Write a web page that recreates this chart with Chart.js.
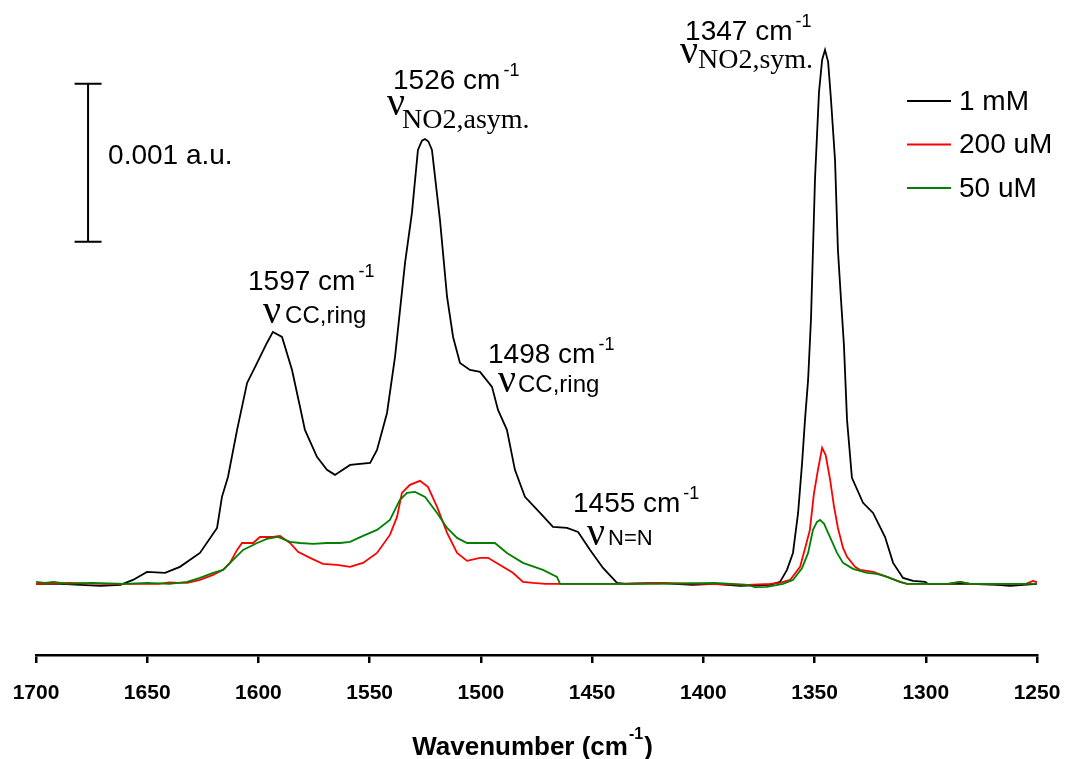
<!DOCTYPE html>
<html lang="en">
<head>
  <meta charset="UTF-8" />
  <title>SERS spectra vs concentration</title>
  <script src="https://cdn.jsdelivr.net/npm/chart.js"></script>
  <style>
    body { margin: 0; background: #ffffff; }
    #wrap { width: 1067px; height: 759px; }
  </style>
</head>
<body>
  <div id="wrap"><canvas id="spectrum"></canvas></div>

  <script>
    // traces: [wavenumber (cm-1), absorbance in units of 0.001 a.u.]
    const trace1mM = [
      [1700, 0], [1689, 0], [1680, -0.006], [1671, -0.013], [1662, -0.006], [1656.4, 0.025],
      [1650.1, 0.076], [1642, 0.070], [1635.3, 0.108], [1626.3, 0.196], [1618.6, 0.354],
      [1616.4, 0.551], [1613.7, 0.677], [1609.6, 0.975], [1605.1, 1.272], [1600.6, 1.399],
      [1596.2, 1.525], [1593.5, 1.595], [1589.4, 1.563], [1584.9, 1.354], [1581.3, 1.120],
      [1579.1, 0.975], [1573.7, 0.804], [1569.2, 0.722], [1565.6, 0.690], [1558.8, 0.753],
      [1549.8, 0.766], [1546.7, 0.848], [1542.2, 1.082], [1538.6, 1.437], [1534.1, 2.032],
      [1531.0, 2.348], [1528.3, 2.747], [1526.5, 2.805], [1525.1, 2.816], [1523.6, 2.800],
      [1522.0, 2.747], [1518.4, 2.304], [1515.2, 1.816], [1512.5, 1.563], [1509.4, 1.399],
      [1504.9, 1.354], [1500.4, 1.342], [1495.0, 1.247], [1492.3, 1.101], [1488.3, 0.975],
      [1484.7, 0.722], [1480.2, 0.551], [1473.4, 0.449], [1467.6, 0.361], [1461.3, 0.354],
      [1456.3, 0.329], [1450.9, 0.215], [1445.1, 0.101], [1438.8, 0.006], [1435.2, 0],
      [1420, 0.006], [1405, -0.006], [1395, 0], [1383.5, -0.013], [1370, -0.006],
      [1365.5, 0.013], [1362.4, 0.089], [1359.7, 0.196], [1357.4, 0.449], [1355.6, 0.766],
      [1354.3, 1.038], [1352.9, 1.291], [1351.6, 1.677], [1350.7, 2.120], [1349.8, 2.563],
      [1348.0, 3.114], [1346.6, 3.316], [1345.3, 3.380], [1343.9, 3.304], [1342.6, 3.063],
      [1340.8, 2.684], [1339.5, 2.114], [1338.1, 1.797], [1336.8, 1.513], [1335.4, 1.038],
      [1333.2, 0.671], [1328.2, 0.513], [1323.7, 0.449], [1318.3, 0.297], [1314.7, 0.133],
      [1310.2, 0.038], [1305.7, 0.019], [1300.3, 0.013], [1299.0, 0], [1280, 0],
      [1268, -0.006], [1262, -0.013], [1250, 0]
    ];

    const trace200uM = [
      [1700, 0], [1685, 0.006], [1670, 0], [1655, 0], [1645, 0], [1640, 0.010], [1636, 0.006],
      [1632.1, 0.006], [1626.3, 0.025], [1620.4, 0.057], [1615.9, 0.089], [1612.8, 0.133],
      [1609.6, 0.215], [1607.4, 0.259], [1602.4, 0.259], [1599.3, 0.297], [1593.5, 0.297],
      [1590.3, 0.304], [1585.8, 0.259], [1582.2, 0.203], [1576.8, 0.165], [1571.0, 0.127],
      [1564.7, 0.120], [1558.8, 0.108], [1556, 0.120], [1553.0, 0.133], [1546.7, 0.196],
      [1540.9, 0.310], [1537.7, 0.424], [1535.5, 0.576], [1531.9, 0.627], [1527.4, 0.652],
      [1523.8, 0.614], [1519.7, 0.487], [1515.2, 0.323], [1510.7, 0.196], [1506.2, 0.146],
      [1500.4, 0.165], [1496.8, 0.165], [1491.4, 0.120], [1485.6, 0.070], [1481.1, 0.013],
      [1476.6, 0.006], [1471, 0], [1440, 0], [1420, 0.006], [1400, 0], [1380, -0.006],
      [1370, 0], [1365.5, 0.006], [1361.0, 0.025], [1356.5, 0.108], [1353.9, 0.245],
      [1352.1, 0.342], [1351.1, 0.468], [1350.3, 0.570], [1348.4, 0.728], [1346.6, 0.861],
      [1345.0, 0.816], [1343.0, 0.658], [1341.3, 0.494], [1339.5, 0.354], [1337.2, 0.228],
      [1335.4, 0.171], [1331.8, 0.108], [1329.6, 0.089], [1323.7, 0.076], [1317.4, 0.044],
      [1311.6, 0.013], [1308.4, 0], [1290, 0], [1284.6, 0.013], [1280, 0], [1255, 0],
      [1251.8, 0.019], [1250, 0.010]
    ];

    const trace50uM = [
      [1700, 0.013], [1696, 0.006], [1692, 0.013], [1686, 0], [1675, 0.006], [1660, 0],
      [1650, 0.006], [1640, 0], [1632.1, 0.013], [1626.3, 0.038], [1620.4, 0.070],
      [1615.9, 0.089], [1611.4, 0.152], [1606.9, 0.215], [1600.6, 0.259], [1596.2, 0.285],
      [1591.2, 0.297], [1585.8, 0.266], [1581.3, 0.259], [1575.5, 0.253], [1569.2, 0.259],
      [1563.3, 0.259], [1558.8, 0.266], [1553.0, 0.304], [1546.7, 0.342], [1540.9, 0.405],
      [1536.4, 0.532], [1533.2, 0.576], [1529.6, 0.582], [1525.1, 0.551], [1519.7, 0.449],
      [1515.2, 0.354], [1510.7, 0.291], [1506.2, 0.259], [1500.4, 0.259], [1493.7, 0.259],
      [1488.3, 0.196], [1481.1, 0.133], [1472.1, 0.089], [1465.8, 0.044], [1464.4, 0],
      [1440, 0], [1420, 0], [1395, 0.006], [1380, -0.006], [1376.8, -0.020], [1371.4, -0.019],
      [1364.2, 0], [1359.7, 0.025], [1355.6, 0.101], [1352.9, 0.196], [1350.7, 0.342],
      [1348.9, 0.392], [1347.5, 0.405], [1345.7, 0.380], [1343.9, 0.323], [1339.9, 0.196],
      [1337.2, 0.133], [1332.7, 0.095], [1326.4, 0.070], [1321.9, 0.063], [1317.4, 0.044],
      [1311.6, 0.013], [1308.4, 0], [1290, 0], [1284.6, 0.013], [1280, 0], [1250, 0]
    ];

    const seriesNames = ['1 mM', '200 uM', '50 uM'];
    const seriesColors = ['#000000', '#ff0000', '#008000'];
    const xTicks = [1700, 1650, 1600, 1550, 1500, 1450, 1400, 1350, 1300, 1250];
    const peakPositions = ['1597', '1526', '1498', '1455', '1347'];
    const peakModes = ['CC,ring', 'NO2,asym.', 'CC,ring', 'N=N', 'NO2,sym.'];
    const scaleBarLabel = '0.001 a.u.';

    const SANS = '"Liberation Sans", Arial, sans-serif';
    const SERIF = '"Liberation Serif", "Times New Roman", serif';

    // where each peak label sits, in axis units (wavenumber, 0.001 a.u.)
    const labelSpots = [
      { wn: 1604.7, a: 1.861, nuWn: 1597.9, nuA: 1.652, subDx: 22, drop: 0, serif: false, size: 24 },
      { wn: 1539.5, a: 3.133, nuWn: 1542.2, nuA: 2.968, subDx: 15, drop: 13, serif: true, size: 28 },
      { wn: 1496.8, a: 1.399, nuWn: 1492.3, nuA: 1.215, subDx: 20, drop: 0, serif: false, size: 24 },
      { wn: 1458.6, a: 0.456, nuWn: 1452.3, nuA: 0.247, subDx: 21, drop: 0, serif: false, size: 22 },
      { wn: 1408.2, a: 3.443, nuWn: 1410.5, nuA: 3.300, subDx: 18, drop: 5, serif: true, size: 28 }
    ];

    const figureText = {
      id: 'figureText',
      afterDraw(chart) {
        const { ctx, scales: { x, y }, chartArea } = chart;
        ctx.save();
        ctx.fillStyle = '#000';
        ctx.strokeStyle = '#000';
        ctx.textBaseline = 'alphabetic';
        ctx.textAlign = 'left';

        // peak labels
        labelSpots.forEach((s, i) => {
          let px = x.getPixelForValue(s.wn);
          let py = y.getPixelForValue(s.a);
          ctx.font = `28px ${SANS}`;
          const main = peakPositions[i] + ' cm';
          ctx.fillText(main, px, py);
          const w = ctx.measureText(main).width;
          ctx.font = `18px ${SANS}`;
          ctx.fillText('-1', px + w + 3, py - 13);

          px = x.getPixelForValue(s.nuWn);
          py = y.getPixelForValue(s.nuA);
          ctx.font = `40px ${SERIF}`;
          ctx.fillText('\u03BD', px, py);
          ctx.font = `${s.size}px ${s.serif ? SERIF : SANS}`;
          ctx.fillText(peakModes[i], px + s.subDx, py + s.drop);
        });

        // scale bar: 1 unit tall
        const bx = x.getPixelForValue(1676.6);
        const b0 = y.getPixelForValue(2.165);
        const b1 = y.getPixelForValue(3.165);
        ctx.lineWidth = 2;
        ctx.beginPath();
        ctx.moveTo(bx, b0); ctx.lineTo(bx, b1);
        ctx.moveTo(bx - 13.5, b0); ctx.lineTo(bx + 13.5, b0);
        ctx.moveTo(bx - 13.5, b1); ctx.lineTo(bx + 13.5, b1);
        ctx.stroke();
        ctx.font = `28px ${SANS}`;
        ctx.fillText(scaleBarLabel, x.getPixelForValue(1667.6), y.getPixelForValue(2.658));

        // legend
        const lx = chartArea.right - 130;
        ctx.textBaseline = 'middle';
        ctx.font = `28px ${SANS}`;
        seriesNames.forEach((name, i) => {
          const ly = chartArea.top + 87 + i * 43.5;
          ctx.strokeStyle = seriesColors[i];
          ctx.lineWidth = 2;
          ctx.beginPath();
          ctx.moveTo(lx, ly); ctx.lineTo(lx + 44, ly);
          ctx.stroke();
          ctx.fillText(name, lx + 52, ly + 1);
        });

        // axis title with superscript
        ctx.textBaseline = 'alphabetic';
        const t1 = 'Wavenumber (cm', sup = '-1', t2 = ')';
        ctx.font = `bold 26px ${SANS}`;
        const w1 = ctx.measureText(t1).width, w3 = ctx.measureText(t2).width;
        ctx.font = `bold 16px ${SANS}`;
        const w2 = ctx.measureText(sup).width;
        const total = w1 + w2 + w3 + 2;
        let tx = (x.left + x.right) / 2 - total / 2 - 4;
        const ty = 755;
        ctx.font = `bold 26px ${SANS}`;
        ctx.fillText(t1, tx, ty);
        ctx.font = `bold 16px ${SANS}`;
        ctx.fillText(sup, tx + w1 + 1, ty - 16);
        ctx.font = `bold 26px ${SANS}`;
        ctx.fillText(t2, tx + w1 + w2 + 2, ty);
        ctx.restore();
      }
    };

    const toPoints = arr => arr.map(([wn, a]) => ({ x: wn, y: a }));
    const traces = [trace1mM, trace200uM, trace50uM];

    new Chart(document.getElementById('spectrum'), {
      type: 'line',
      data: {
        datasets: traces.map((t, i) => ({
          label: seriesNames[i],
          data: toPoints(t),
          borderColor: seriesColors[i],
          borderWidth: 1.8,
          pointRadius: 0,
          tension: 0,
          fill: false,
          order: 3 - i
        }))
      },
      options: {
        responsive: true,
        maintainAspectRatio: false,
        animation: false,
        layout: { padding: { left: 36, right: 30, top: 14, bottom: 0 } },
        plugins: {
          legend: { display: false },
          title: { display: false },
          tooltip: { enabled: false }
        },
        scales: {
          x: {
            type: 'linear',
            reverse: true,
            min: 1250,
            max: 1700,
            afterFit: s => { s.height = 104; },
            afterBuildTicks: s => { s.ticks = xTicks.map(v => ({ value: v })); },
            ticks: {
              color: '#000',
              padding: 0,
              maxRotation: 0,
              autoSkip: false,
              callback: v => String(v),
              font: { family: SANS, size: 21, weight: 'bold', lineHeight: 2.9 }
            },
            grid: { drawOnChartArea: false, drawTicks: true, tickLength: 8, color: '#000', lineWidth: 2.5 },
            border: { display: true, color: '#000', width: 2.5 }
          },
          y: {
            display: false,
            min: -0.45,
            max: 3.607
          }
        }
      },
      plugins: [figureText]
    });
  </script>
</body>
</html>
